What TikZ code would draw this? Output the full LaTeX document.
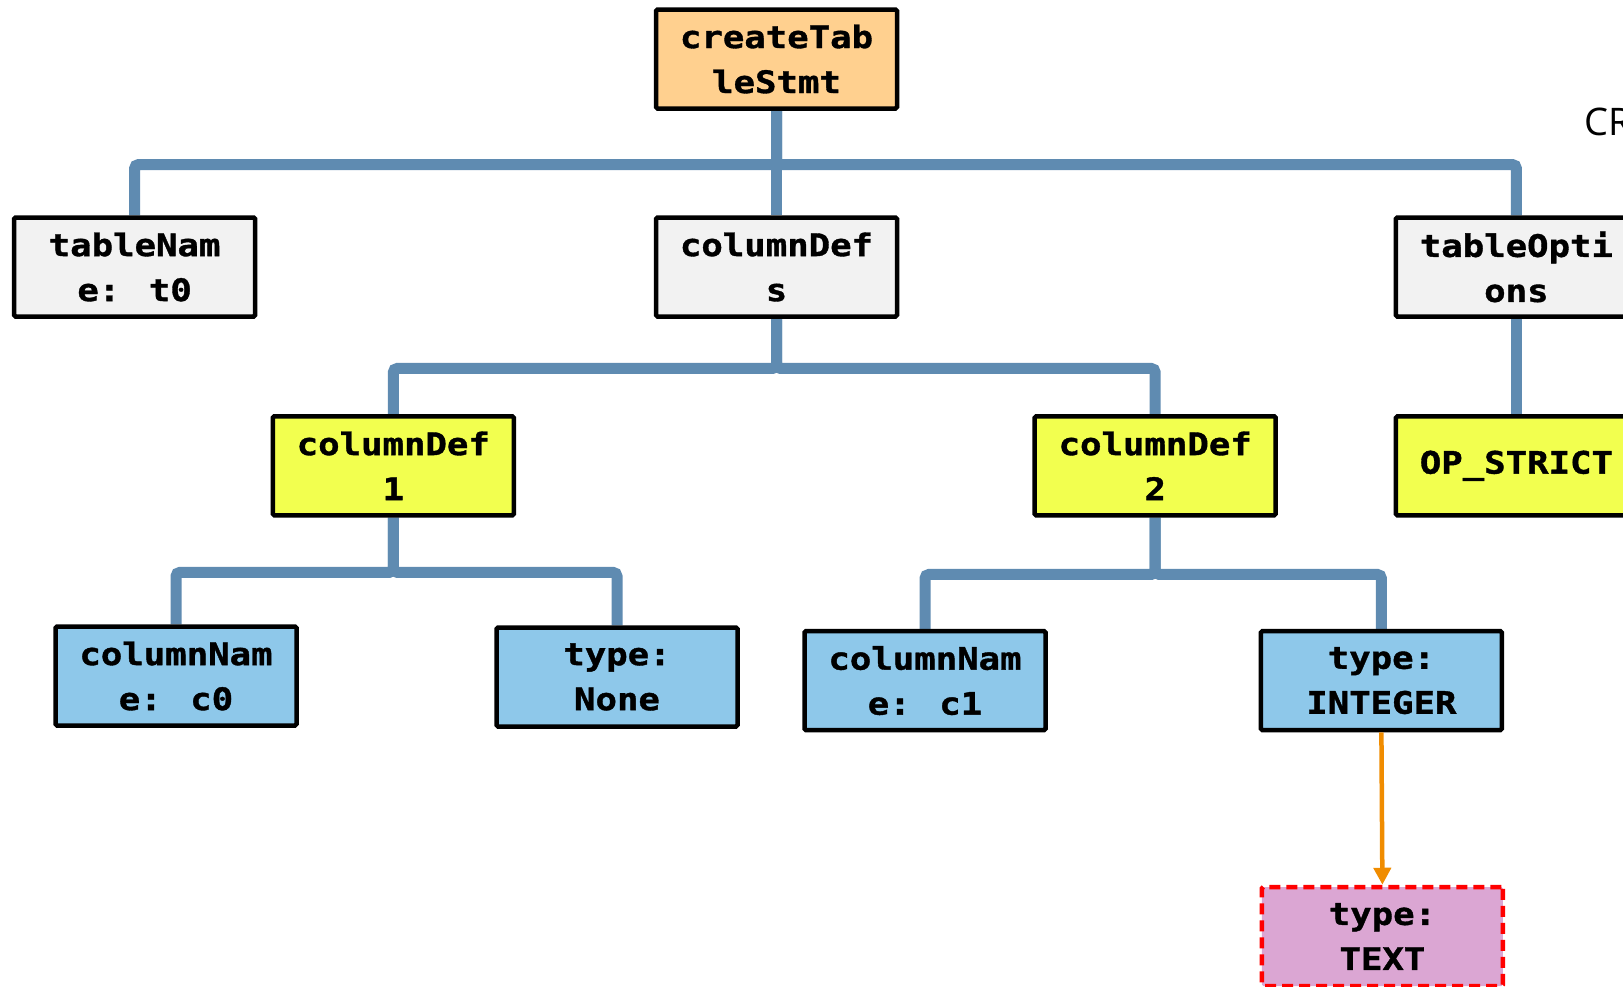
\documentclass[tikz,border=0pt]{standalone}
\usepackage{fontspec}
\newfontfamily\boxfont[FakeStretch=1.15,BoldFeatures={FakeBold=1.2}]{DejaVu Sans Mono}
\newfontfamily\titlefont{Open Sans}
\usetikzlibrary{arrows.meta,backgrounds}
\definecolor{rootfill}{HTML}{FFD08F}
\definecolor{greyfill}{HTML}{F2F2F2}
\definecolor{yelfill}{HTML}{F2FF4F}
\definecolor{bluefill}{HTML}{8EC8EA}
\definecolor{pinkfill}{HTML}{DBA6D3}
\definecolor{edgecol}{HTML}{5F8BB1}
\definecolor{arrcol}{HTML}{F08C00}
\definecolor{redline}{HTML}{FF0000}
\begin{document}
\begin{tikzpicture}[x=1pt,y=-1pt,
  box/.style={draw=black, line width=4.5pt, rounded corners=1.5pt,
    minimum width=241pt, minimum height=99pt, inner sep=0pt, align=center,
    font={\boxfont\bfseries\fontsize{31}{45}\selectfont}},
  rootbox/.style={box, fill=rootfill},
  greybox/.style={box, fill=greyfill},
  yelbox/.style={box, fill=yelfill},
  bluebox/.style={box, fill=bluefill},
  newbox/.style={box, fill=pinkfill, draw=redline, dash pattern=on 11pt off 6pt},
  tedge/.style={draw=edgecol, line width=11pt, rounded corners=4pt},
  chg/.style={draw=arrcol, line width=4.5pt, -{Triangle[width=17pt,length=17pt]}}
]
\useasboundingbox (0,0) rectangle (1623,986);

\node[rootbox] (root) at (776.5,59) {createTab\\leStmt};
\node[greybox] (tname) at (134.6,267) {tableNam\\e: t0};
\node[greybox] (cdefs) at (776.5,267) {columnDef\\s};
\node[greybox] (topts) at (1516.4,267) {tableOpti\\ons};
\node[yelbox] (cd1) at (393.3,465.8) {columnDef\\1};
\node[yelbox] (cd2) at (1155.2,465.8) {columnDef\\2};
\node[yelbox] (strict) at (1516.4,465.8) {OP\_STRICT};
\node[bluebox] (cn0) at (176,676) {columnNam\\e: c0};
\node[bluebox] (ty0) at (617,677) {type:\\None};
\node[bluebox] (cn1) at (925,680.6) {columnNam\\e: c1};
\node[bluebox] (ty1) at (1381.4,680.6) {type:\\INTEGER};
\node[newbox] (ty1new) at (1382.4,936.5) {type:\\TEXT};

\node[anchor=base west, inner sep=0pt, font={\titlefont\fontsize{38}{40}\selectfont}] (title) at (1584,135) {CR};

\begin{scope}[on background layer]
\draw[tedge] (root.south) -- ++(0,53.8) -| (tname.north);
\draw[tedge] (root.south) -- (cdefs.north);
\draw[tedge] (root.south) -- ++(0,53.8) -| (topts.north);
\draw[tedge] (cdefs.south) -- ++(0,49.7) -| (cd1.north);
\draw[tedge] (cdefs.south) -- ++(0,49.7) -| (cd2.north);
\draw[tedge] (topts.south) -- (strict.north);
\draw[tedge] (cd1.south) -- ++(0,54.8) -| (cn0.north);
\draw[tedge] (cd1.south) -- ++(0,54.8) -| (ty0.north);
\draw[tedge] (cd2.south) -- ++(0,56.9) -| (cn1.north);
\draw[tedge] (cd2.south) -- ++(0,56.9) -| (ty1.north);
\end{scope}

\draw[chg] (ty1.south) -- (ty1new.north);
\end{tikzpicture}
\end{document}
